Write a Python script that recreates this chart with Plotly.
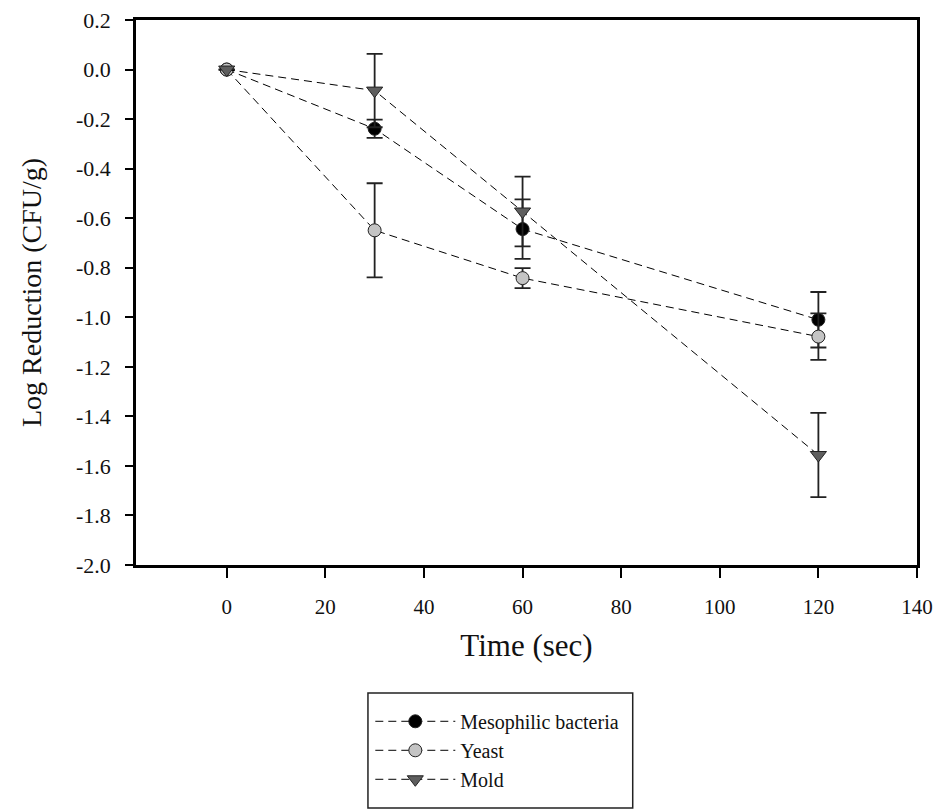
import plotly.graph_objects as go

time = [0, 30, 60, 120]
meso = [0.0, -0.239, -0.644, -1.010]
meso_err = [0.0, 0.037, 0.120, 0.112]
yeast = [0.0, -0.649, -0.842, -1.078]
yeast_err = [0.0, 0.19, 0.040, 0.094]
mold = [0.0, -0.085, -0.573, -1.556]
mold_err = [0.0, 0.148, 0.141, 0.170]

x_ticks = [0, 20, 40, 60, 80, 100, 120, 140]
y_ticks = [0.2, 0.0, -0.2, -0.4, -0.6, -0.8, -1.0, -1.2, -1.4, -1.6, -1.8, -2.0]
y_ticktext = [f"{v:.1f}" for v in y_ticks]

FONT = "Liberation Serif, Times New Roman, serif"

fig = go.Figure()

series = [
    ("Mesophilic bacteria", meso, meso_err, "circle", "#000000", 13),
    ("Yeast", yeast, yeast_err, "circle", "#c4c4c4", 13),
    ("Mold", mold, mold_err, "triangle-down", "#5e5e5e", 14),
]
for name, vals, errs, sym, col, sz in series:
    fig.add_trace(go.Scatter(
        x=time, y=vals, name=name, mode="lines+markers",
        line=dict(color="#000000", width=1, dash="8px,5px"),
        marker=dict(symbol=sym, size=sz, color=col,
                    line=dict(color="#222222", width=1)),
        error_y=dict(type="data", array=errs, visible=True,
                     color="#222222", thickness=1.8, width=8),
    ))

# legend frame
fig.add_shape(type="rect", xref="paper", yref="paper",
              x0=0.297, x1=0.636, y0=-0.446, y1=-0.235,
              line=dict(color="#222222", width=1.5), fillcolor="rgba(0,0,0,0)")

fig.update_layout(
    width=939, height=811,
    margin=dict(l=136, r=22, t=20, b=246, autoexpand=False),
    paper_bgcolor="white", plot_bgcolor="white",
    font=dict(family=FONT, size=21, color="#111111"),
    showlegend=True,
    legend=dict(
        x=0.300, y=-0.251, xanchor="left", yanchor="top",
        borderwidth=0, bgcolor="rgba(0,0,0,0)",
        font=dict(family=FONT, size=20, color="#111111"),
        tracegroupgap=0, itemwidth=80,
    ),
    xaxis=dict(
        range=[-18.4, 140], tickvals=x_ticks,
        ticks="outside", ticklen=10, tickwidth=2, tickcolor="#000000",
        showline=True, linecolor="#000000", linewidth=2.5, mirror=True,
        showgrid=False, zeroline=False, automargin=False,
        ticklabelstandoff=11,
        tickfont=dict(family=FONT, size=21),
        title=dict(text="Time (sec)", font=dict(family=FONT, size=31), standoff=17),
    ),
    yaxis=dict(
        range=[-2.0, 0.2], tickvals=y_ticks, ticktext=y_ticktext,
        ticks="outside", ticklen=8, tickwidth=2, tickcolor="#000000",
        showline=True, linecolor="#000000", linewidth=2.5, mirror=True,
        showgrid=False, zeroline=False, automargin=False,
        ticklabelstandoff=10,
        tickfont=dict(family=FONT, size=22),
        title=dict(text="Log Reduction (CFU/g)", font=dict(family=FONT, size=28), standoff=27),
    ),
)

fig.write_html("out.html")
